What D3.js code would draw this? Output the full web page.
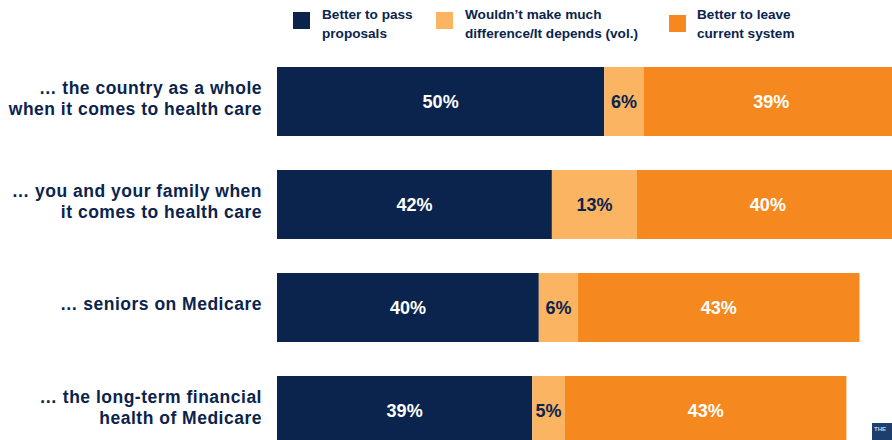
<!DOCTYPE html>
<html><head><meta charset="utf-8">
<script src="https://cdn.jsdelivr.net/npm/d3@7"></script>
<style>body{margin:0;background:#fff}svg{display:block}text{font-family:"Liberation Sans",Arial,sans-serif;font-weight:bold}</style>
</head><body><svg id="c" width="892" height="440"></svg>
<script>
const categories = [
  ["… the country as a whole", "when it comes to health care"],
  ["… you and your family when", "it comes to health care"],
  ["… seniors on Medicare"],
  ["… the long-term financial", "health of Medicare"]
];
const seriesNames = [
  ["Better to pass", "proposals"],
  ["Wouldn’t make much", "difference/It depends (vol.)"],
  ["Better to leave", "current system"]
];
const passVals = [50, 42, 40, 39];
const dependsVals = [6, 13, 6, 5];
const leaveVals = [39, 40, 43, 43];
const colors = ["#0a244d", "#fbb462", "#f5881f"];
const labelColors = ["#ffffff", "#0a244d", "#ffffff"];

const svg = d3.select("#c");
const x = d3.scaleLinear().domain([0, 100]).range([277, 931.5]);
const y = d3.scaleBand().domain(d3.range(categories.length)).range([67, 445]).paddingInner(0.33).paddingOuter(0);

const series = [passVals, dependsVals, leaveVals];
const rows = categories.map((c, i) => {
  let acc = 0;
  return series.map((s, k) => { const v = s[i]; const seg = {i, k, x0: acc, x1: acc + v, v}; acc += v; return seg; });
});

const g = svg.append("g");
rows.forEach(r => r.forEach(seg => {
  g.append("rect").attr("x", x(seg.x0)).attr("y", y(seg.i))
    .attr("width", x(seg.x1) - x(seg.x0)).attr("height", y.bandwidth()).attr("fill", colors[seg.k]);
  g.append("text").attr("x", (x(seg.x0) + x(seg.x1)) / 2).attr("y", y(seg.i) + y.bandwidth() / 2 + 6.5)
    .attr("text-anchor", "middle").attr("font-size", 18).attr("fill", labelColors[seg.k]).text(seg.v + "%");
}));

// category labels
categories.forEach((lines, i) => {
  const cy = y(i) + y.bandwidth() / 2;
  const lh = 21.5;
  const t = svg.append("text").attr("text-anchor", "end").attr("font-size", 17.5)
    .attr("letter-spacing", 0.5).attr("fill", "#0a244d");
  lines.forEach((ln, j) => {
    t.append("tspan").attr("x", 262).attr("y", cy + 3 + (j - (lines.length - 1) / 2) * lh).text(ln);
  });
});

// legend
const legX = [293, 436, 669];
const legY = [12, 12, 15];
const legTX = [322, 465, 697];
seriesNames.forEach((lines, k) => {
  svg.append("rect").attr("x", legX[k]).attr("y", legY[k]).attr("width", 17).attr("height", 17).attr("fill", colors[k]);
  const t = svg.append("text").attr("font-size", 13.6).attr("fill", "#0a244d");
  lines.forEach((ln, j) => t.append("tspan").attr("x", legTX[k]).attr("y", 19 + j * 19).text(ln));
});

// logo
svg.append("rect").attr("x", 872).attr("y", 423).attr("width", 20).attr("height", 17).attr("fill", "#1d3f6e");
svg.append("text").attr("x", 874).attr("y", 431).attr("font-size", 6).attr("fill", "#c8d4e4").text("THE");
</script></body></html>
